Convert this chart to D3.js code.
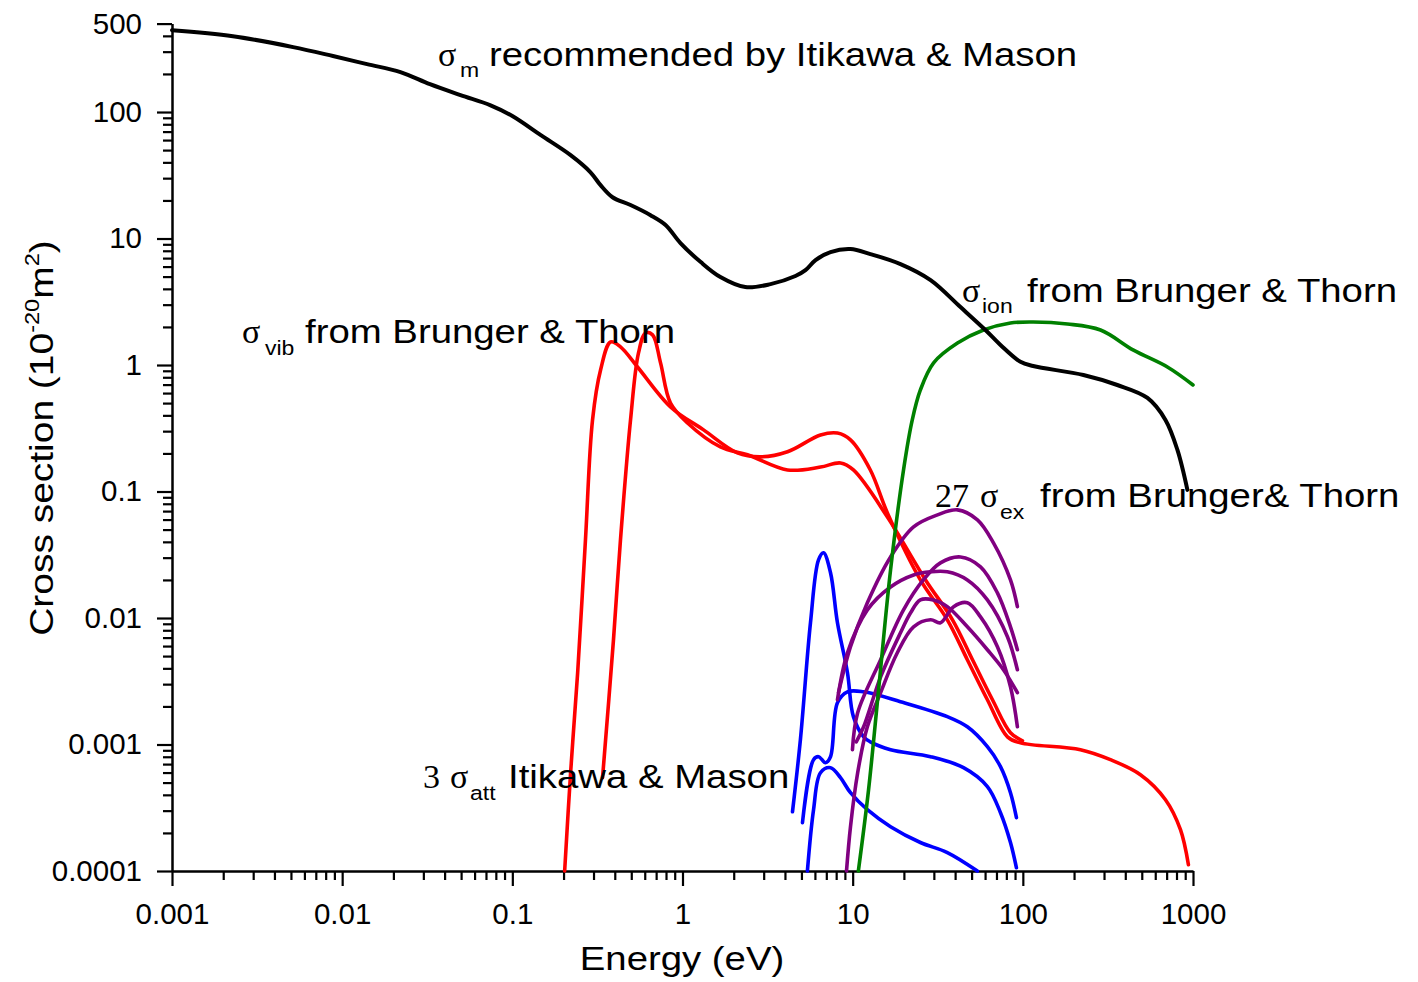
<!DOCTYPE html>
<html>
<head>
<meta charset="utf-8">
<script src="https://cdn.jsdelivr.net/npm/d3@7"></script>
<style>
  body { margin: 0; background: #fff; }
  svg { display: block; }
</style>
</head>
<body>
<svg id="chart" width="1418" height="982"></svg>
<script>
// ---- Cross sections [energy (eV), sigma (1e-20 m^2)] ----
const momentumTransfer = [
  [0.001, 443], [0.00228, 397], [0.00515, 326], [0.00883, 277], [0.0140, 239],
  [0.0220, 207], [0.0328, 166], [0.0496, 136], [0.0745, 113], [0.1, 93],
  [0.147, 65.6], [0.220, 45.6], [0.288, 33.4], [0.330, 26.4], [0.388, 21.2],
  [0.495, 18.4], [0.649, 15.3], [0.795, 12.8], [0.973, 9.20], [1.28, 6.51],
  [1.67, 4.96], [2.34, 4.13], [3.29, 4.36], [4.61, 5.05], [5.28, 5.62],
  [6.05, 6.75], [7.41, 7.81], [9.71, 8.25], [12.7, 7.53], [19.1, 6.28],
  [28.7, 4.69], [43.0, 2.87], [60.3, 1.89], [73.9, 1.44], [96.8, 1.06],
  [115, 0.982], [227, 0.834], [359, 0.695], [540, 0.549], [689, 0.368],
  [810, 0.213], [927, 0.103]
];

const vibrationalA = [
  [0.203, 1.0e-4], [0.220, 5.98e-4], [0.242, 3.69e-3], [0.269, 0.0415], [0.296, 0.368],
  [0.330, 0.913], [0.378, 1.52], [0.432, 1.39], [0.544, 0.964], [0.850, 0.466],
  [1.33, 0.307], [2.10, 0.202], [2.87, 0.188], [4.14, 0.206], [6.47, 0.280],
  [8.14, 0.290], [9.71, 0.256], [12.7, 0.148], [16.0, 0.0678], [25.0, 0.0200],
  [36.0, 0.00968], [47.2, 0.00468], [61.9, 0.00226], [81.2, 0.00115], [96.8, 0.00103],
  [218, 9.10e-4], [327, 7.59e-4], [491, 5.77e-4], [689, 3.66e-4], [844, 2.12e-4],
  [940, 1.12e-4]
];

const vibrationalB = [
  [0.339, 5.47e-4], [0.393, 6.73e-3], [0.432, 0.0415], [0.495, 0.368], [0.551, 1.24],
  [0.606, 1.79], [0.667, 1.73], [0.743, 1.04], [0.850, 0.501], [1.07, 0.348],
  [1.67, 0.225], [2.41, 0.195], [4.14, 0.148], [6.47, 0.156], [8.48, 0.168],
  [10.1, 0.148], [16.0, 0.063], [26.8, 0.0200], [38.6, 0.00968], [50.6, 0.00468],
  [66.3, 0.00226], [84.6, 0.00124], [99.5, 0.00107]
];

const ionization = [
  [10.8, 1.0e-4], [12.4, 4.39e-4], [14.2, 2.71e-3], [16.7, 0.0240], [19.9, 0.148],
  [22.4, 0.368], [25.0, 0.635], [29.9, 1.04], [41.3, 1.49], [58.7, 1.89],
  [84.6, 2.15], [115, 2.19], [183, 2.11], [286, 1.89], [447, 1.31],
  [707, 0.964], [1000, 0.695]
];

const attachment1 = [
  [4.43, 2.94e-4], [4.93, 1.09e-3], [5.65, 9.17e-3], [6.30, 0.0288], [6.74, 0.0328],
  [7.41, 0.0228], [8.14, 9.17e-3], [9.32, 3.69e-3], [10.1, 1.66e-3], [11.6, 1.15e-3],
  [12.7, 1.05e-3], [16.7, 9.10e-4], [28.7, 8.01e-4], [44.8, 6.56e-4], [61.9, 4.65e-4],
  [73.9, 2.89e-4], [84.6, 1.68e-4], [91.7, 1.06e-4]
];

const attachment2 = [
  [5.07, 2.41e-4], [5.89, 7.59e-4], [6.30, 8.01e-4], [6.92, 7.18e-4], [7.41, 8.01e-4],
  [8.14, 2.14e-3], [9.32, 2.61e-3], [11.6, 2.61e-3], [19.1, 2.18e-3], [36.0, 1.66e-3],
  [47.2, 1.38e-3], [61.9, 9.61e-4], [73.9, 6.68e-4], [84.6, 4.16e-4], [91.7, 2.64e-4]
];

const attachment3 = [
  [5.42, 1.0e-4], [5.89, 3.05e-4], [6.47, 5.98e-4], [7.41, 6.56e-4], [8.48, 5.47e-4],
  [9.71, 4.16e-4], [12.2, 3.05e-4], [16.7, 2.24e-4], [25.0, 1.68e-4], [36.0, 1.40e-4],
  [54.1, 1.0e-4]
];

const excitation1 = [
  [8.26, 2.57e-3], [9.71, 5.92e-3], [12.2, 0.0132], [16.7, 0.0304], [22.8, 0.0525],
  [31.5, 0.0653], [41.3, 0.0716], [54.1, 0.0597], [67.2, 0.0393], [84.6, 0.0200],
  [92.9, 0.0123]
];

const excitation2 = [
  [9.97, 9.10e-4], [10.7, 1.78e-3], [14.6, 4.68e-3], [19.9, 0.0116], [26.0, 0.0200],
  [32.8, 0.0273], [43.0, 0.0304], [56.4, 0.0254], [70.9, 0.0158], [84.6, 8.52e-3],
  [92.9, 5.61e-3]
];

const excitation3 = [
  [8.14, 2.26e-3], [9.32, 5.31e-3], [12.2, 0.0116], [16.7, 0.0176], [22.8, 0.0219],
  [28.7, 0.0232], [36.0, 0.0232], [47.2, 0.0200], [61.9, 0.0139], [81.2, 7.11e-3],
  [92.9, 3.90e-3]
];

const excitation4 = [
  [10.5, 1.05e-3], [11.6, 1.38e-3], [14.6, 3.43e-3], [19.1, 7.64e-3], [21.9, 0.0110],
  [25.0, 0.0139], [29.8, 0.0139], [36.0, 0.0123], [47.2, 8.52e-3], [61.9, 5.61e-3],
  [76.9, 3.90e-3], [92.9, 2.57e-3]
];

const excitation5 = [
  [9.20, 1.0e-4], [9.71, 2.24e-4], [10.7, 5.98e-4], [12.2, 1.38e-3], [14.6, 2.57e-3],
  [18.3, 5.31e-3], [22.8, 8.52e-3], [28.7, 9.68e-3], [32.8, 9.17e-3], [39.2, 0.0123],
  [47.2, 0.0132], [56.4, 0.0102], [70.9, 5.92e-3], [84.6, 2.86e-3], [92.9, 1.38e-3]
];

// ---- Axis ticks ----
const xTickValues = [0.001, 0.01, 0.1, 1, 10, 100, 1000];
const xTickLabels = ['0.001', '0.01', '0.1', '1', '10', '100', '1000'];
const yTickValues = [0.0001, 0.001, 0.01, 0.1, 1, 10, 100, 500];
const yTickLabels = ['0.0001', '0.001', '0.01', '0.1', '1', '10', '100', '500'];

// ---- Drawing ----
const svg = d3.select('#chart');
const x = d3.scaleLog().domain([0.001, 1000]).range([172, 1193]);
const y = d3.scaleLog().domain([1e-4, 500]).range([871, 23.6]);

const sans = 'Liberation Sans, Arial, Helvetica, sans-serif';
const serif = 'Liberation Serif, Times New Roman, serif';
const stretch = 1.18;

// minor ticks: 2..9 within every decade inside the domain
function minorTicks(scale) {
  const [lo, hi] = scale.domain();
  const out = [];
  for (let e = Math.floor(Math.log10(lo)); e < Math.ceil(Math.log10(hi)); e++) {
    for (let m = 2; m <= 9; m++) {
      const v = m * Math.pow(10, e);
      if (v > lo * 1.0001 && v < hi * 0.9999) out.push(v);
    }
  }
  return out;
}

function styleAxis(g) {
  g.select('.domain').attr('stroke', '#000').attr('stroke-width', 2.5);
  g.selectAll('.tick line').attr('stroke', '#000').attr('stroke-width', 2.2);
  g.selectAll('.tick text').attr('font-family', sans).attr('font-size', 29.5).attr('fill', '#000');
}

// bottom axis
svg.append('g').attr('transform', 'translate(0,871)')
  .call(d3.axisBottom(x).tickValues(minorTicks(x)).tickSize(9).tickSizeOuter(0).tickFormat(''))
  .call(styleAxis).call(g => g.select('.domain').remove());
svg.append('g').attr('transform', 'translate(0,871)')
  .call(d3.axisBottom(x).tickValues(xTickValues).tickSize(15).tickSizeOuter(0)
    .tickPadding(17).tickFormat((d, i) => xTickLabels[i]))
  .call(styleAxis);

// left axis
svg.append('g').attr('transform', 'translate(172,0)')
  .call(d3.axisLeft(y).tickValues(minorTicks(y)).tickSize(9).tickSizeOuter(0).tickFormat(''))
  .call(styleAxis).call(g => g.select('.domain').remove());
svg.append('g').attr('transform', 'translate(172,0)')
  .call(d3.axisLeft(y).tickValues(yTickValues).tickSize(15).tickSizeOuter(0)
    .tickPadding(15).tickFormat((d, i) => yTickLabels[i]))
  .call(styleAxis);

// curves
const line = d3.line().x(d => x(d[0])).y(d => y(d[1])).curve(d3.curveCatmullRom.alpha(0.5));
const curves = [
  { data: vibrationalA, color: '#ff0000', w: 3.6 },
  { data: vibrationalB, color: '#ff0000', w: 3.6 },
  { data: attachment1, color: '#0000ff', w: 3.6 },
  { data: attachment2, color: '#0000ff', w: 3.6 },
  { data: attachment3, color: '#0000ff', w: 3.6 },
  { data: excitation1, color: '#800080', w: 3.6 },
  { data: excitation2, color: '#800080', w: 3.6 },
  { data: excitation3, color: '#800080', w: 3.6 },
  { data: excitation4, color: '#800080', w: 3.6 },
  { data: excitation5, color: '#800080', w: 3.6 },
  { data: ionization, color: '#008000', w: 3.6 },
  { data: momentumTransfer, color: '#000000', w: 4 }
];
svg.append('g').selectAll('path').data(curves).join('path')
  .attr('d', c => line(c.data))
  .attr('fill', 'none')
  .attr('stroke', c => c.color)
  .attr('stroke-width', c => c.w)
  .attr('stroke-linejoin', 'round')
  .attr('stroke-linecap', 'round');

// text helper: wide sans text drawn with a horizontal stretch
function word(x0, y0, str, size, family, sx) {
  return svg.append('text')
    .attr('transform', `translate(${x0},${y0}) scale(${sx},1)`)
    .attr('font-family', family).attr('font-size', size).attr('fill', '#000')
    .text(str);
}

// curve annotations
const annotations = [
  { parts: [['σ', 438, 66, 'sym'], ['m', 460, 77, 'sub'], ['recommended by Itikawa & Mason', 489, 66, 'main']] },
  { parts: [['σ', 962, 302, 'sym'], ['ion', 982, 313, 'sub'], ['from Brunger & Thorn', 1027, 302, 'main']] },
  { parts: [['σ', 242, 343, 'sym'], ['vib', 265, 355, 'sub'], ['from Brunger & Thorn', 305, 343, 'main']] },
  { parts: [['27', 935, 507, 'sym'], ['σ', 980, 507, 'sym'], ['ex', 1000, 519, 'sub'], ['from Brunger& Thorn', 1040, 507, 'main']] },
  { parts: [['3', 423, 788, 'sym'], ['σ', 450, 788, 'sym'], ['att', 470, 800, 'sub'], ['Itikawa & Mason', 508, 788, 'main']] }
];
annotations.forEach(a => a.parts.forEach(([s, px, py, kind]) => {
  if (kind === 'sym') word(px, py, s, 34, serif, 1);
  else if (kind === 'sub') word(px, py, s, 19.5, sans, stretch);
  else word(px, py, s, 32.5, sans, stretch);
}));

// axis titles
svg.append('text')
  .attr('transform', `translate(682,970) scale(${stretch},1)`)
  .attr('text-anchor', 'middle')
  .attr('font-family', sans).attr('font-size', 32.5).attr('fill', '#000')
  .text('Energy (eV)');

const yTitle = svg.append('text')
  .attr('transform', `translate(53,438) rotate(-90) scale(${stretch},1)`)
  .attr('text-anchor', 'middle')
  .attr('font-family', sans).attr('font-size', 33).attr('fill', '#000');
yTitle.append('tspan').text('Cross section (10');
yTitle.append('tspan').attr('font-size', 20).attr('dy', -14).text('-20');
yTitle.append('tspan').attr('dy', 14).text('m');
yTitle.append('tspan').attr('font-size', 20).attr('dy', -14).text('2');
yTitle.append('tspan').attr('dy', 14).text(')');
</script>
</body>
</html>
